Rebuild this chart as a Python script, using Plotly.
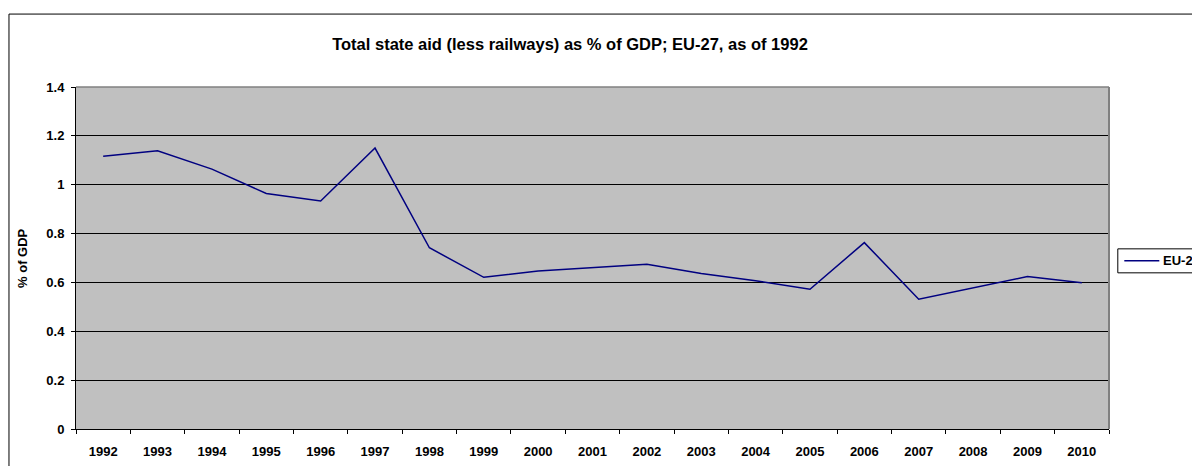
import plotly.graph_objects as go

years = [str(y) for y in range(1992, 2011)]
eu27 = [1.117, 1.139, 1.064, 0.964, 0.933, 1.150, 0.742, 0.621, 0.647, 0.662,
        0.674, 0.637, 0.607, 0.572, 0.763, 0.531, 0.579, 0.624, 0.599]
series_name = "EU-27"

FONT = "Arial, 'Liberation Sans', sans-serif"
W, H = 1192, 466
L, R, T, B = 76, 83.3, 87, 36.7
pw, ph = W - L - R, H - T - B

def px(x):
    return (x - L) / pw

def py(y):
    return (H - B - y) / ph

fig = go.Figure()
fig.add_trace(go.Scatter(x=years, y=eu27, mode="lines", name=series_name,
                         line=dict(color="#000080", width=1.5), showlegend=False))

fig.update_layout(
    width=W, height=H,
    margin=dict(l=L, r=R, t=T, b=B, autoexpand=False),
    paper_bgcolor="white",
    plot_bgcolor="#C0C0C0",
    title=dict(text="<b>Total state aid (less railways) as % of GDP; EU-27, as of 1992</b>",
               x=570 / W, xanchor="center", xref="container",
               y=1 - 44 / H, yanchor="middle", yref="container",
               font=dict(family=FONT, size=16.5, color="black")),
    xaxis=dict(type="category", range=[-0.5, len(years) - 0.5], tickson="boundaries",
               ticks="outside", ticklen=4, ticklabelstandoff=10, automargin=False,
               tickcolor="black", showgrid=False, showline=True, linecolor="black",
               linewidth=1, tickfont=dict(family=FONT, size=13, color="black"),
               tickprefix="<b>", ticksuffix="</b>", fixedrange=True),
    yaxis=dict(range=[0, 1.4], dtick=0.2, tick0=0, ticks="outside", ticklen=4,
               ticklabelstandoff=4, automargin=False,
               tickcolor="black", showgrid=True, gridcolor="black", gridwidth=1,
               zeroline=False, showline=True, linecolor="black", linewidth=1,
               tickfont=dict(family=FONT, size=13, color="black"),
               tickprefix="<b>", ticksuffix="</b>", tickformat="~g", fixedrange=True),
    shapes=[
        dict(type="line", xref="paper", yref="paper", x0=1, x1=1, y0=0, y1=1,
             line=dict(color="#808080", width=2)),
        dict(type="line", xref="paper", yref="paper", x0=0, x1=1, y0=1, y1=1,
             line=dict(color="#808080", width=1.5)),
        dict(type="rect", xref="paper", yref="paper",
             x0=px(9), x1=1.3, y0=-0.3, y1=py(14),
             line=dict(color="black", width=1), layer="below"),
        # legend box
        dict(type="rect", xref="paper", yref="paper",
             x0=px(1117.5), x1=px(1230), y0=py(273), y1=py(249),
             line=dict(color="black", width=1), fillcolor="white"),
        dict(type="line", xref="paper", yref="paper",
             x0=px(1124), x1=px(1159), y0=py(261), y1=py(261),
             line=dict(color="#000080", width=1.5)),
    ],
    annotations=[
        dict(text="<b>% of GDP</b>", textangle=-90, xref="paper", yref="paper",
             x=px(22), y=0.5, xanchor="center", yanchor="middle",
             showarrow=False, font=dict(family=FONT, size=13, color="black")),
        dict(text="<b>" + series_name + "</b>", xref="paper", yref="paper",
             x=px(1161), y=py(261), xanchor="left", yanchor="middle",
             showarrow=False, font=dict(family=FONT, size=13, color="black")),
    ],
)

fig.write_html("out.html")
